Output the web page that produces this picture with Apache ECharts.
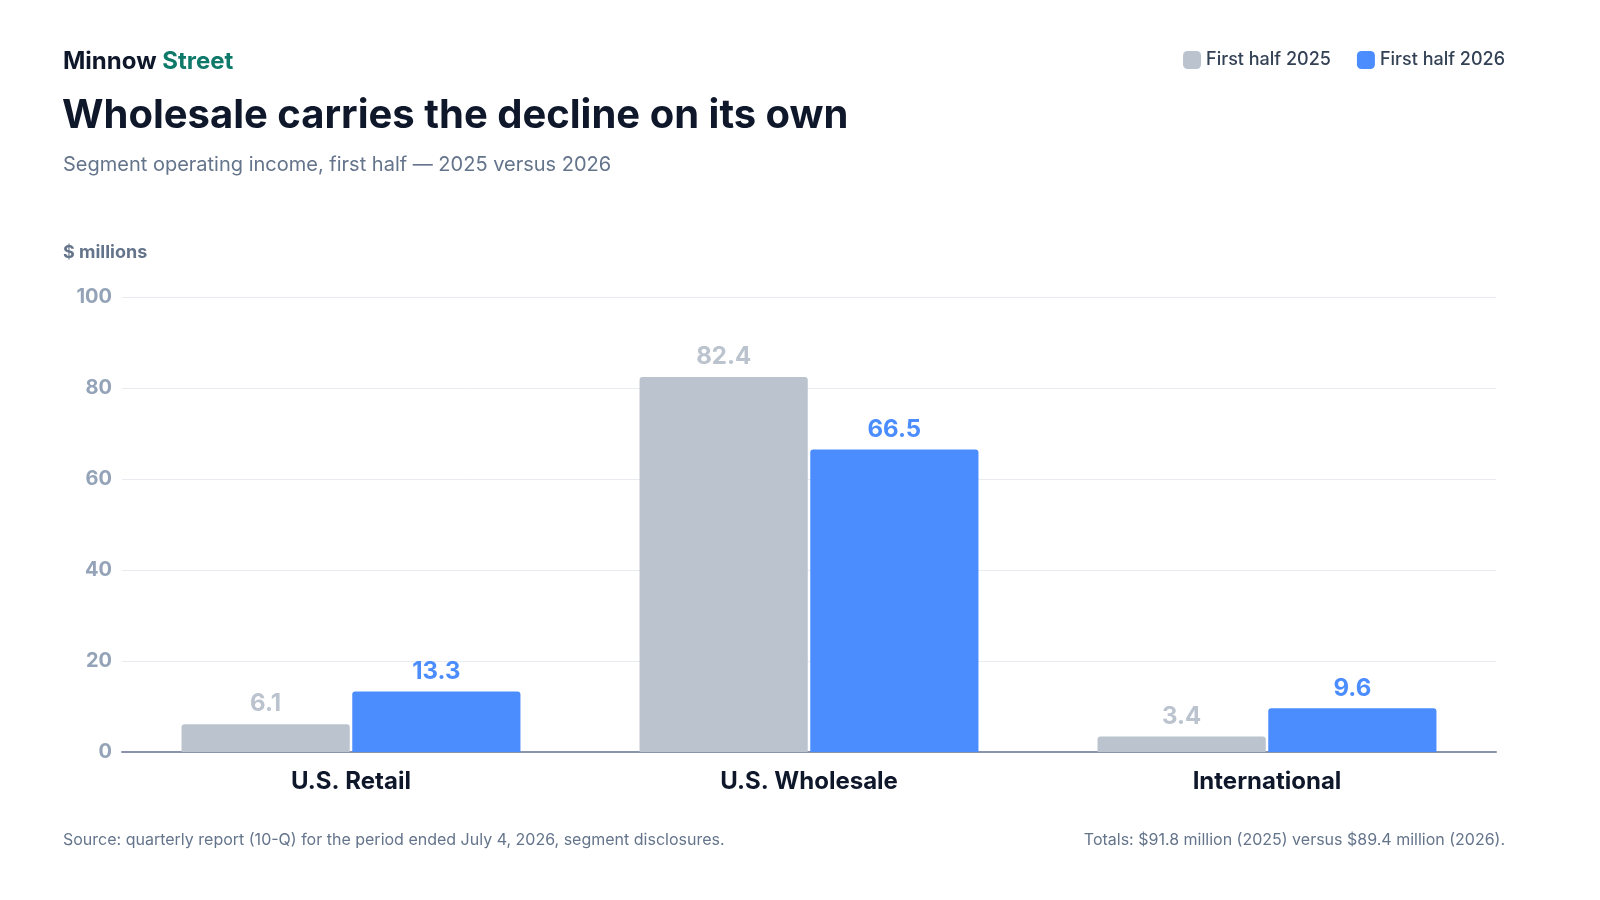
<!DOCTYPE html>
<html><head><meta charset="utf-8">
<script src="https://cdn.jsdelivr.net/npm/echarts@6/dist/echarts.min.js"></script>
<style>html,body{margin:0;background:#fff}#c{width:1600px;height:900px}</style>
</head><body><div id="c"></div>
<script>
var categories = ['U.S. Retail', 'U.S. Wholesale', 'International'];
var h2025 = [6.1, 82.4, 3.4];
var h2026 = [13.3, 66.5, 9.6];
var seriesNames = ['First half 2025', 'First half 2026'];
var F = 'Inter, "Noto Sans", sans-serif';

var myChart = echarts.init(document.getElementById('c'));
var option = {
    textStyle: { fontFamily: F },
    color: ['#bac3ce', '#4b8dff'],
    title: [
        { text: '{a|Minnow }{b|Street}', left: 63, top: 50, padding: 0,
          textStyle: { rich: {
              a: { fontFamily: F, fontSize: 24, fontWeight: 'bold', color: '#0f172a' },
              b: { fontFamily: F, fontSize: 24, fontWeight: 'bold', color: '#0f7a6a' } } } },
        { text: 'Wholesale carries the decline on its own', left: 62, top: 96, padding: 0,
          textStyle: { fontFamily: F, fontSize: 40, fontWeight: 'bold', color: '#0f172a' } },
        { text: 'Segment operating income, first half — 2025 versus 2026', left: 63, top: 155, padding: 0,
          textStyle: { fontFamily: F, fontSize: 20, fontWeight: 'normal', color: '#64748b' } },
        { text: '$ millions', left: 63, top: 244, padding: 0,
          textStyle: { fontFamily: F, fontSize: 18, fontWeight: 'bold', color: '#64748b' } },
        { text: 'Source: quarterly report (10-Q) for the period ended July 4, 2026, segment disclosures.', left: 63, top: 832, padding: 0,
          textStyle: { fontFamily: F, fontSize: 16, fontWeight: 'normal', color: '#64748b' } },
        { text: 'Totals: $91.8 million (2025) versus $89.4 million (2026).', right: 95, top: 832, padding: 0,
          textStyle: { fontFamily: F, fontSize: 16, fontWeight: 'normal', color: '#64748b' } }
    ],
    legend: {
        right: 95, top: 51, padding: 0, itemWidth: 18, itemHeight: 18, itemGap: 26,
        icon: 'roundRect',
        textStyle: { fontFamily: F, fontSize: 18, color: '#334155', fontWeight: 500 },
        data: seriesNames
    },
    grid: { left: 122, right: 104, top: 297, bottom: 148 },
    xAxis: {
        type: 'category', data: categories,
        axisTick: { show: false },
        axisLine: { lineStyle: { color: '#8a93ad', width: 2 } },
        axisLabel: { fontFamily: F, fontSize: 24, fontWeight: 'bold', color: '#0f172a', margin: 18 }
    },
    yAxis: {
        type: 'value', min: 0, max: 100, interval: 20,
        splitLine: { lineStyle: { color: '#e8ebf0' } },
        axisLabel: { fontFamily: F, fontSize: 20, fontWeight: 'bold', color: '#94a3b8', margin: 10 }
    },
    series: [
        { name: seriesNames[0], type: 'bar', data: h2025, barGap: '1.5%', barCategoryGap: '26%',
          itemStyle: { borderRadius: [3, 3, 0, 0] },
          label: { show: true, position: 'top', distance: 8, fontFamily: F, fontSize: 24, fontWeight: 'bold', color: '#bac3ce' } },
        { name: seriesNames[1], type: 'bar', data: h2026,
          itemStyle: { borderRadius: [3, 3, 0, 0] },
          label: { show: true, position: 'top', distance: 8, fontFamily: F, fontSize: 24, fontWeight: 'bold', color: '#4b8dff' } }
    ]
};
myChart.setOption(option);
</script></body></html>
